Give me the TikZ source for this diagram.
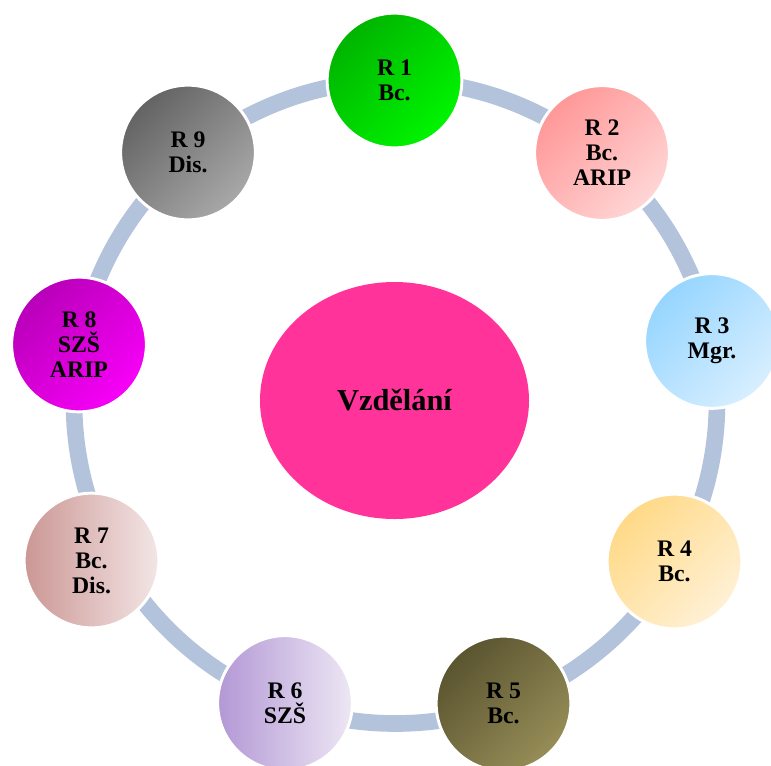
\documentclass[tikz,border=0pt]{standalone}
\usepackage{fontspec}
\setmainfont{Liberation Serif}
\usetikzlibrary{shapes.geometric}
\definecolor{ringblue}{HTML}{B3C3DC}
\definecolor{hubpink}{HTML}{FF3399}
\definecolor{oneA}{HTML}{00B400}\definecolor{oneB}{HTML}{00F500}
\definecolor{twoA}{HTML}{FF9797}\definecolor{twoB}{HTML}{FFD6D6}
\definecolor{threeA}{HTML}{96D5FF}\definecolor{threeB}{HTML}{D8EFFF}
\definecolor{fourA}{HTML}{FFD987}\definecolor{fourB}{HTML}{FFF1D6}
\definecolor{fiveA}{HTML}{5A5430}\definecolor{fiveB}{HTML}{968D57}
\definecolor{sixA}{HTML}{B398D5}\definecolor{sixB}{HTML}{EDE7F4}
\definecolor{sevenA}{HTML}{CB9794}\definecolor{sevenB}{HTML}{F3E6E6}
\definecolor{eightA}{HTML}{B800B8}\definecolor{eightB}{HTML}{F800F8}
\definecolor{nineA}{HTML}{636363}\definecolor{nineB}{HTML}{A8A8A8}
\begin{document}
\begin{tikzpicture}[x=0.75pt,y=-0.75pt,
  ring/.style={draw=ringblue,line width=12.5pt},
  stage/.style={circle,draw=white,line width=2.2pt,minimum size=101pt,inner sep=0pt,
    align=center,font=\fontsize{17.8}{18.8}\selectfont\bfseries,text=black},
  diag/.style 2 args={top color=#1,bottom color=#2,shading angle=45},
  horiz/.style 2 args={left color=#1,right color=#2},
  hub/.style={ellipse,fill=hubpink,minimum width=201.75pt,minimum height=177.75pt,
    inner sep=0pt,font=\fontsize{22.8}{24}\selectfont\bfseries,text=black}]
\useasboundingbox (0,0) rectangle (771,765);
\clip (0,0) rectangle (771,765);
% background ring linking the stages
\coordinate (ctr) at (395.5,402);
\draw[ring] (ctr) circle[radius=321.5];
% central topic
\node[hub] (hub) at (394.5,400.5) {Vzdělání};
% stages around the ring
\node[stage,diag={oneA}{oneB}] (r1) at (394.5,80.5) {R 1\\Bc.};
\node[stage,diag={twoA}{twoB}] (r2) at (602,153) {R 2\\Bc.\\ARIP};
\node[stage,diag={threeA}{threeB}] (r3) at (712,341) {R 3\\Mgr.};
\node[stage,diag={fourA}{fourB}] (r4) at (674.5,561.5) {R 4\\Bc.};
\node[stage,diag={fiveA}{fiveB}] (r5) at (503.5,703.5) {R 5\\Bc.};
\node[stage,horiz={sixA}{sixB}] (r6) at (285,703) {R 6\\SZŠ};
\node[stage,horiz={sevenA}{sevenB}] (r7) at (91.5,560.5) {R 7\\Bc.\\Dis.};
\node[stage,diag={eightA}{eightB}] (r8) at (79,344.5) {R 8\\SZŠ\\ARIP};
\node[stage,diag={nineA}{nineB}] (r9) at (188,152.5) {R 9\\Dis.};
\end{tikzpicture}
\end{document}
